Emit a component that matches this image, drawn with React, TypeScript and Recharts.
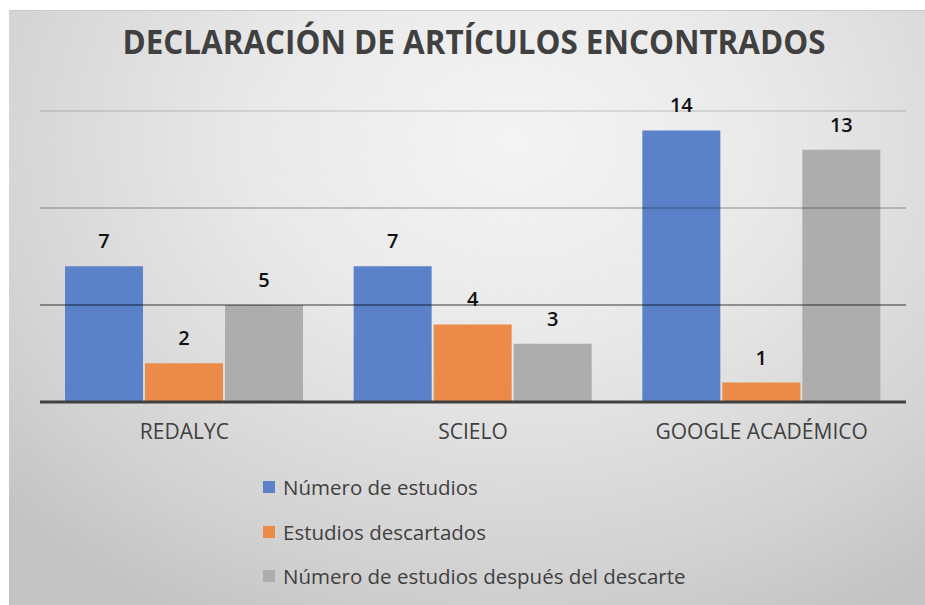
import React from 'react';
import { BarChart, Bar, XAxis, YAxis, LabelList, ReferenceLine, Legend } from 'recharts';

const categories = ['REDALYC', 'SCIELO', 'GOOGLE ACADÉMICO'];
const numeroEstudios = [7, 7, 14];
const estudiosDescartados = [2, 4, 1];
const despuesDescarte = [5, 3, 13];
const gridTicks = [5, 10, 15];

const series = [
    { key: 'numero', name: 'Número de estudios', color: '#5b82c8', values: numeroEstudios },
    { key: 'descartados', name: 'Estudios descartados', color: '#ec8a48', values: estudiosDescartados },
    { key: 'despues', name: 'Número de estudios después del descarte', color: '#adadad', values: despuesDescarte },
];

const data = categories.map((name, i) => {
    const row: Record<string, string | number> = { name };
    series.forEach((s) => { row[s.key] = s.values[i]; });
    return row;
});

const gridOpacity = [0.38, 0.2, 0.1];
const font = '"Open Sans", sans-serif';

const LegendBox = () => (
    <div style={{ fontFamily: font }}>
        {series.map((s) => (
            <div key={s.key} style={{ display: 'flex', alignItems: 'center', height: 44.5, color: '#404040', fontSize: 20.5 }}>
                <span style={{ display: 'inline-block', width: 12, height: 12, background: s.color, marginRight: 8 }} />
                {s.name}
            </div>
        ))}
    </div>
);

export default function App() {
    const W = 916;
    const H = 595;
    return (
        <div style={{
            position: 'absolute', left: 9, top: 10, width: W, height: H,
            background: 'radial-gradient(ellipse 75% 90% at 55% 22%, #f4f4f4 0%, #e8e8e8 40%, #d2d2d2 80%, #c4c4c4 100%)',
            borderTop: '1px solid #cacaca',
        }}>
            <svg width={W} height={90} style={{ position: 'absolute', left: 0, top: 0 }}>
                <text x={465} y={43} textAnchor="middle" fontFamily={font} fontWeight={700} fontSize={34}
                    fill="#404040" textLength={703} lengthAdjust="spacingAndGlyphs">
                    DECLARACIÓN DE ARTÍCULOS ENCONTRADOS
                </text>
            </svg>
            <BarChart width={W} height={H} data={data} margin={{ top: 100, right: 19, left: 31, bottom: 164 }}
                barCategoryGap={25} barGap={2} style={{ position: 'absolute', left: 0, top: 0 }}>
                <YAxis hide domain={[0, 15]} ticks={[0, ...gridTicks]} />
                <XAxis dataKey="name" height={40} tickLine={false} tickSize={0} tickMargin={22}
                    axisLine={{ stroke: '#404040', strokeWidth: 3 }}
                    tick={{ fill: '#404040', fontSize: 21, fontFamily: font }} />
                {series.map((s) => (
                    <Bar key={s.key} dataKey={s.key} name={s.name} fill={s.color} isAnimationActive={false}>
                        <LabelList dataKey={s.key} position="top" offset={18}
                            style={{ fill: '#111', fontSize: 20, fontWeight: 600, fontFamily: font }} />
                    </Bar>
                ))}
                {gridTicks.map((t, i) => (
                    <ReferenceLine key={t} y={t} stroke="#000" strokeOpacity={gridOpacity[i]} strokeWidth={2} />
                ))}
                <Legend layout="vertical" align="center" verticalAlign="middle" content={<LegendBox />}
                    wrapperStyle={{ left: 254, top: 454, width: 'auto' }} />
            </BarChart>
        </div>
    );
}
